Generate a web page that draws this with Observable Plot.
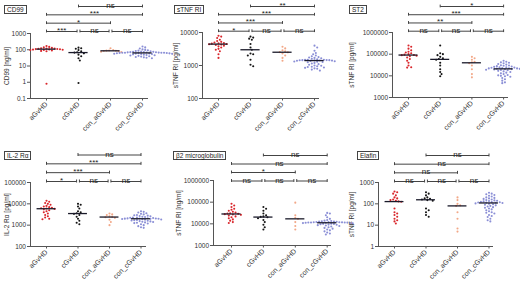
<!DOCTYPE html>
<html><head><meta charset="utf-8">
<script src="https://cdn.jsdelivr.net/npm/d3@7"></script>
<script src="https://cdn.jsdelivr.net/npm/@observablehq/plot@0.6"></script>
<style>
body{margin:0;background:#fff;}
#chart{position:relative;width:520px;height:283px;overflow:hidden;background:#fff;font-family:"Liberation Sans",Arial,sans-serif;}
#chart svg{position:absolute;background:transparent;overflow:visible;}
.tbox{position:absolute;border:1px solid #444;font-size:6.5px;line-height:7px;padding:0 2px;color:#222;background:#fff;white-space:nowrap;}
</style></head>
<body><div id="chart"></div>
<script>
const categories = ["aGvHD", "cGvHD", "con_aGvHD", "con_cGvHD"];
const groupColors = ["#d9262b", "#151515", "#f2a888", "#8b8fd6"];
const comparisons = [[0,1,0],[1,2,0],[2,3,0],[0,2,1],[0,3,2],[1,3,3]]; // from, to, row

// CD99 [ng/ml]
const cd99_aGvHD = [170,150,140,130,125,120,118,115,112,110,108,105,102,100,98,95,90,85,80,0.8];
const cd99_cGvHD = [135,125,115,95,80,70,67,60,50,40,30,22,0.9];
const cd99_conA = [125,95,90,88,86,84,80,76,72];
const cd99_conC = [160,140,120,105,98,92,88,84,80,78,76,74,72,71,70,69,68,67,66,66,65,65,64,63,62,61,60,59,58,57,56,55,54,52,50,48,46,44,42,40,38,36,34,32,30];
const cd99_sig = ["***","ns","ns","*","***","ns"];

// sTNF RI [pg/ml]
const tnf_aGvHD = [8000,7500,6800,6000,5500,5200,5000,4800,4700,4600,4500,4400,4300,4200,4000,3800,3500,3200,3000,2700,2200,1700];
const tnf_cGvHD = [7500,7000,6500,6000,4500,3500,3000,2300,2200,2000,1500,1050,950];
const tnf_conA = [3700,3300,2900,2700,2550,2500,2300,2000,1700,1400];
const tnf_conC = [4000,3500,2800,2400,2200,2000,1900,1800,1750,1700,1650,1600,1550,1500,1500,1480,1460,1450,1450,1440,1430,1420,1410,1400,1380,1350,1320,1300,1280,1250,1200,1150,1100,1050,1000,980,950,920,900,870,850,820,800,750,700];
const tnf_sig = ["*","ns","ns","***","***","**"];

// ST2 [pg/ml]
const st2_aGvHD = [250000,220000,180000,150000,130000,120000,110000,100000,95000,92000,90000,85000,80000,70000,60000,50000,40000,30000,25000,24000];
const st2_cGvHD = [250000,110000,100000,90000,75000,65000,60000,55000,40000,30000,20000,15000,12000,9500];
const st2_conA = [75000,65000,55000,45000,42000,38000,30000,20000,12000,8500];
const st2_conC = [50000,45000,42000,40000,38000,35000,33000,31000,30000,29000,28000,27000,26000,25000,24500,24000,23500,23000,22500,22000,22000,21500,21000,20500,20000,19500,19000,18500,18000,17000,16000,15000,14000,13000,12000,11000,10500,10000,9500,9000,8000,7000,6000,5000,4600];
const st2_sig = ["ns","ns","ns","**","***","*"];

// IL-2 Ra [pg/ml]
const il2_aGvHD = [14000,12500,11000,10000,9000,8000,7500,7000,6500,6200,6000,5800,5500,5000,4500,4000,3500,3000,2600,2300,2000,1900];
const il2_cGvHD = [10000,9000,7500,6000,4500,4000,3600,3400,3000,2500,2000,1600,1300,1100];
const il2_conA = [3500,3200,3000,2600,2450,2350,2200,1800,1400,1000];
const il2_conC = [4500,4200,3900,3600,3400,3200,3000,2900,2800,2700,2600,2500,2400,2300,2250,2200,2150,2100,2080,2060,2040,2020,2000,1980,1950,1900,1850,1800,1750,1700,1650,1600,1550,1500,1450,1400,1350,1300,1250,1200,1100,1000,900,800,750];
const il2_sig = ["*","ns","ns","***","***","ns"];

// beta2 microglobulin [ng/ml]
const b2m_aGvHD = [85000,70000,60000,50000,45000,40000,36000,33000,31000,30000,29000,28000,27000,26000,24000,22000,20000,18000,16000,14000,12000,11000];
const b2m_cGvHD = [60000,50000,40000,30000,25000,22000,21000,20000,18000,15000,12000,9000,7000,5500];
const b2m_conA = [95000,25000,19000,17000,12000,8000,5500];
const b2m_conC = [32000,30000,25000,20000,17000,15000,14000,13500,13000,12800,12600,12400,12200,12000,11900,11800,11700,11600,11500,11500,11400,11300,11200,11000,10800,10500,10200,10000,9800,9500,9200,9000,8700,8400,8000,7500,7000,6500,6000,5500,5000,4500,4000,3600,3200];
const b2m_sig = ["ns","ns","ns","*","ns","ns"];

// Elafin [pg/ml]
const elafin_aGvHD = [380,350,300,250,200,180,160,150,140,130,125,60,40,35,30,25,20,17,15,12];
const elafin_cGvHD = [350,300,250,200,180,170,160,150,140,60,50,40,30,25];
const elafin_conA = [200,150,100,85,80,40,20,7,5];
const elafin_conC = [330,300,280,260,240,220,200,190,180,170,160,150,145,140,135,130,125,120,118,116,114,112,110,105,100,95,90,85,80,75,70,65,60,55,50,45,40,38,35,30,27,24,20,17,15];
const elafin_sig = ["ns","ns","ns","ns","ns","ns"];

const panels = [
  {title:"CD99", ylabel:"CD99 [ng/ml]", domain:[0.1,1000], groups:[cd99_aGvHD,cd99_cGvHD,cd99_conA,cd99_conC], sig:cd99_sig,
   L:{left:0, top:0, axisX:30, cat0:46, step:32, xEnd:148, fTop:33, fBot:98, row0:31, row3:6, tX:4, tY:5, labX:6}},
  {title:"sTNF RI", ylabel:"sTNF RI [pg/ml]", domain:[100,10000], groups:[tnf_aGvHD,tnf_cGvHD,tnf_conA,tnf_conC], sig:tnf_sig,
   L:{left:170, top:0, axisX:202, cat0:218, step:32, xEnd:319, fTop:32, fBot:98, row0:30.7, row3:6, tX:174, tY:5, labX:175}},
  {title:"ST2", ylabel:"sTNF RI [pg/ml]", domain:[1000,1000000], groups:[st2_aGvHD,st2_cGvHD,st2_conA,st2_conC], sig:st2_sig,
   L:{left:345, top:0, axisX:392, cat0:408, step:31.7, xEnd:508, fTop:32, fBot:97, row0:30.7, row3:6, tX:349, tY:5, labX:351}},
  {title:"IL-2 R\u03b1", ylabel:"IL-2 R\u03b1 [pg/ml]", domain:[100,100000], groups:[il2_aGvHD,il2_cGvHD,il2_conA,il2_conC], sig:il2_sig,
   L:{left:0, top:146, axisX:30, cat0:46, step:31.5, xEnd:146, fTop:182, fBot:246, row0:181, row3:154.5, tX:4, tY:151, labX:6}},
  {title:"\u03b22 microglobulin", ylabel:"sTNF RI [ng/ml]", domain:[1000,1000000], groups:[b2m_aGvHD,b2m_cGvHD,b2m_conA,b2m_conC], sig:b2m_sig,
   L:{left:170, top:146, axisX:213, cat0:231, step:31.9, xEnd:331, fTop:180, fBot:245, row0:180.5, row3:155, tX:173, tY:151, labX:178}},
  {title:"Elafin", ylabel:"sTNF RI [pg/ml]", domain:[1,1000], groups:[elafin_aGvHD,elafin_cGvHD,elafin_conA,elafin_conC], sig:elafin_sig,
   L:{left:345, top:146, axisX:378, cat0:394, step:31.5, xEnd:493, fTop:182, fBot:246, row0:181, row3:155, tX:357, tY:151, labX:351}}
];

const chart = document.getElementById("chart");
const R = 1.05;

function swarm(values, ci, L, domain) {
  const ys = d3.scaleLog().domain(domain).range([L.fBot, L.fTop]);
  const pts = values.map(v => ({v, py: ys(v)})).sort((a, b) => a.py - b.py);
  const minD = 2 * R + 0.35, s = minD * 0.55;
  const placed = [];
  for (const p of pts) {
    let off = 0;
    for (let k = 0; k < 60; k++) {
      const o = k === 0 ? 0 : (k % 2 ? 1 : -1) * Math.ceil(k / 2) * s;
      let ok = true;
      for (const q of placed) {
        const dx = o - q.off, dy = p.py - q.py;
        if (dx * dx + dy * dy < minD * minD) { ok = false; break; }
      }
      if (ok) { off = o; break; }
    }
    p.off = off; placed.push(p);
  }
  return pts.map(p => ({v: p.v, x: ci + p.off / L.step, g: ci}));
}

for (const P of panels) {
  const L = P.L;
  const xMin = (L.axisX - L.cat0) / L.step, xMax = (L.xEnd - L.cat0) / L.step;
  const svgTop = L.fTop - 6;
  const width = L.xEnd + 4 - L.left;
  const height = (L.fBot - svgTop) + 42;
  const pts = P.groups.flatMap((vals, i) => swarm(vals, i, L, P.domain));
  const meds = P.groups.map((vals, i) => ({i, m: d3.median(vals)}));
  const e0 = Math.round(Math.log10(P.domain[0])), e1 = Math.round(Math.log10(P.domain[1]));
  const ticks = d3.range(e0, e1 + 1).map(e => e < 0 ? +Math.pow(10, e).toFixed(-e) : Math.pow(10, e));
  const labelPos = [{text: P.ylabel, x: xMin - (L.axisX - L.labX) / L.step, y: Math.sqrt(P.domain[0] * P.domain[1])}];

  const main = Plot.plot({
    width, height,
    marginLeft: L.axisX - L.left, marginRight: 4,
    marginTop: L.fTop - svgTop, marginBottom: height - (L.fBot - svgTop),
    style: {background: "transparent", overflow: "visible", color: "#333", fontFamily: "Liberation Sans, Arial, sans-serif"},
    x: {domain: [xMin, xMax]},
    y: {type: "log", domain: P.domain},
    marks: [
      Plot.axisY({ticks, tickFormat: d => String(d), tickSize: 3, tickPadding: 1.5, fontSize: 6.5, label: null, stroke: "#555"}),
      Plot.axisX({ticks: [0,1,2,3], tickFormat: i => categories[i], tickRotate: -45, tickSize: 2.5, tickPadding: 2, fontSize: 7, label: null, stroke: "#555"}),
      Plot.ruleX([xMin], {stroke: "#555", strokeWidth: 1}),
      Plot.ruleY([P.domain[0]], {stroke: "#555", strokeWidth: 1}),
      Plot.dot(pts, {x: "x", y: "v", r: R, fill: d => groupColors[d.g], stroke: "none"}),
      Plot.ruleY(meds, {x1: d => d.i - 0.3, x2: d => d.i + 0.3, y: "m", stroke: "#1a1a2a", strokeWidth: 1.3}),
      Plot.text(labelPos, {x: "x", y: "y", text: "text", rotate: -90, fontSize: 6.5, fill: "#333"})
    ]
  });
  main.style.left = L.left + "px";
  main.style.top = svgTop + "px";
  chart.appendChild(main);

  // significance brackets
  const br = comparisons.map(([a, b, row], k) => ({a, b, row, label: P.sig[k]}));
  const segs = br.map(d => ({row: d.row, x1: d.a + (d.row === 0 && d.a > 0 ? 0.045 : 0), x2: d.b - (d.row === 0 && d.b < 3 ? 0.045 : 0), label: d.label}));
  const caps = segs.flatMap(d => [{row: d.row, x: d.x1}, {row: d.row, x: d.x2}]);
  const bHeight = L.fTop - L.top;
  const brk = Plot.plot({
    width, height: bHeight,
    marginLeft: L.axisX - L.left, marginRight: 4,
    marginTop: L.row3 - L.top, marginBottom: bHeight - (L.row0 - L.top),
    style: {background: "transparent", overflow: "visible", fontFamily: "Liberation Sans, Arial, sans-serif"},
    x: {domain: [xMin, xMax], axis: null},
    y: {domain: [0, 3], axis: null},
    marks: [
      Plot.link(segs, {x1: "x1", x2: "x2", y1: "row", y2: "row", stroke: "#444", strokeWidth: 1}),
      Plot.ruleX(caps, {x: "x", y1: d => d.row - 0.17, y2: d => d.row + 0.17, stroke: "#444", strokeWidth: 1}),
      Plot.text(segs, {x: d => (d.x1 + d.x2) / 2, y: "row", text: "label", lineAnchor: "bottom", dy: 1.5, fontSize: 8, fill: "#222"})
    ]
  });
  brk.style.left = L.left + "px";
  brk.style.top = L.top + "px";
  chart.appendChild(brk);

  const t = document.createElement("div");
  t.className = "tbox";
  t.textContent = P.title;
  t.style.left = L.tX + "px";
  t.style.top = L.tY + "px";
  chart.appendChild(t);
}
</script></body></html>
